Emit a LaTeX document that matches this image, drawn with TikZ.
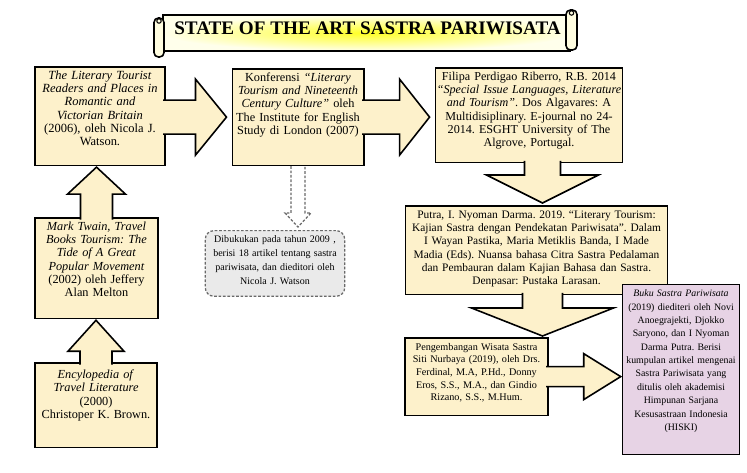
\documentclass[tikz,border=0pt]{standalone}
\usepackage{fontspec}
\setmainfont{Liberation Serif}
\usetikzlibrary{calc}
\frenchspacing

\definecolor{cardfill}{RGB}{253,241,203}
\definecolor{pinkfill}{RGB}{231,211,229}
\definecolor{notefill}{RGB}{234,234,234}
\definecolor{notedash}{RGB}{105,105,105}

\begin{document}
\begin{tikzpicture}[x=0.02cm, y=-0.02cm,
  card/.style={draw=black, line width=0.9pt, fill=cardfill, align=center, anchor=north,
    inner xsep=-2pt, inner ysep=2pt, text height=5pt,
    execute at begin node={\hyphenpenalty=10000\exhyphenpenalty=10000}},
  callout/.style={draw=black, line width=0.9pt, fill=cardfill, line join=miter},
  dasharrow/.style={draw=notedash, line width=0.7pt, fill=white, dash pattern=on 1.5pt off 1pt},
  roll/.style={draw=black, line width=0.9pt, fill=yellow!12!white, rounded corners=2.5pt}]
  \useasboundingbox (0,0) rectangle (747,473);
  \fill[white] (0,0) rectangle (747,473);

  % title scroll
  \shadedraw[inner color=yellow!85!white, outer color=yellow!8!white, line width=0.9pt] (163,15) rectangle (570,51);
  \filldraw[roll] (154,18) rectangle (164,57);
  \filldraw[roll] (566,10) rectangle (577,50);
  \draw[line width=0.6pt] (159,21) circle (2.2);
  \draw[line width=0.6pt] (571.5,13) circle (2.2);
  \node[font=\bfseries\fontsize{10.9}{12}\selectfont] (title) at (367.5,28) {STATE OF THE ART SASTRA PARIWISATA};

  % top row
  \node[card, text width=77.7pt, text depth=47.1pt, font=\fontsize{7.1}{7.6}\selectfont] (lit) at (100,66)
    {\textit{The Literary Tourist}\\ \textit{Readers and Places in}\\ \textit{Romantic and}\\ \textit{Victorian Britain}\\ (2006), oleh Nicola J.\\ Watson.};
  \node[card, text width=78.8pt, text depth=46pt, font=\fontsize{7}{7.6}\selectfont] (conf) at (298,68)
    {Konferensi \textit{“Literary}\\ \textit{Tourism and Nineteenth}\\ \textit{Century Culture”} oleh\\ The Institute for English\\ Study di London (2007)};
  \node[card, text width=110.6pt, text depth=44.9pt, font=\fontsize{6.9}{7.6}\selectfont] (fil) at (529,67)
    {Filipa Perdigao Riberro, R.B. 2014\\ \textit{“Special Issue Languages, Literature}\\ \textit{and Tourism”}. Dos Algavares: A\\ Multidisiplinary. E-journal no 24-\\ 2014. ESGHT University of The\\ Algrove, Portugal.};

  % right column
  \node[card, text width=153.1pt, text depth=41.5pt, font=\fontsize{6.5}{7.6}\selectfont] (put) at (536.5,205)
    {Putra, I. Nyoman Darma. 2019. “Literary Tourism:\\ Kajian Sastra dengan Pendekatan Pariwisata”. Dalam\\ I Wayan Pastika, Maria Metiklis Banda, I Made\\ Madia (Eds). Nuansa bahasa Citra Sastra Pedalaman\\ dan Pembauran dalam Kajian Bahasa dan Sastra.\\ Denpasar: Pustaka Larasan.};
  \node[card, text width=85.1pt, text depth=35.2pt, font=\fontsize{5.8}{7.2}\selectfont] (peng) at (476.5,337)
    {Pengembangan Wisata Sastra\\ Siti Nurbaya (2019), oleh Drs.\\ Ferdinal, M.A, P.Hd., Donny\\ Eros, S.S., M.A., dan Gindio\\ Rizano, S.S., M.Hum.};
  \node[card, fill=pinkfill, line width=0.6pt, text width=70.9pt, text depth=87.9pt, font=\fontsize{5.6}{7.6}\selectfont] (buku) at (681,284)
    {\textit{Buku Sastra Pariwisata}\\ (2019) diediteri oleh Novi\\ Anoegrajekti, Djokko\\ Saryono, dan I Nyoman\\ Darma Putra. Berisi\\ kumpulan artikel mengenai\\ Sastra Pariwisata yang\\ ditulis oleh akademisi\\ Himpunan Sarjana\\ Kesusastraan Indonesia\\ (HISKI)};

  % left column
  \node[card, text width=73.7pt, text depth=48.3pt, font=\fontsize{7}{7.6}\selectfont] (twain) at (96.5,217)
    {\textit{Mark Twain, Travel}\\ \textit{Books Tourism: The}\\ \textit{Tide of A Great}\\ \textit{Popular Movement}\\ (2002) oleh Jeffery\\ Alan Melton};
  \node[card, text width=73.2pt, text height=7pt, text depth=37.2pt, font=\fontsize{7}{7.6}\selectfont] (ency) at (96,362)
    {\textit{Encylopedia of}\\ \textit{Travel Literature}\\ (2000)\\ Christoper K. Brown.};

  % note under the conference
  \node[card, draw=notedash, fill=notefill, line width=0.7pt, dash pattern=on 1.5pt off 1pt, rounded corners=5pt,
    text width=83.4pt, text depth=28.4pt, font=\fontsize{5.7}{7.8}\selectfont] (note) at (275,230)
    {Dibukukan pada tahun 2009 ,\\ berisi 18 artikel tentang sastra\\ pariwisata, dan dieditori oleh\\ Nicola J. Watson};

  % lit -> conf
  \coordinate (tipA) at ($(conf.west)+(-5,0)$);
  \filldraw[callout] ($(lit.east |- tipA)+(-2.5,-17)$) -- ($(tipA)+(-31,-17)$) -- ($(tipA)+(-31,-38)$) -- (tipA)
    -- ($(tipA)+(-31,38)$) -- ($(tipA)+(-31,17)$) -- ($(lit.east |- tipA)+(-2.5,17)$);

  % conf -> fil
  \coordinate (tipB) at ($(fil.west |- conf.east)+(-5,0)$);
  \filldraw[callout] ($(conf.east |- tipB)+(-2.5,-17)$) -- ($(tipB)+(-30,-17)$) -- ($(tipB)+(-30,-38)$) -- (tipB)
    -- ($(tipB)+(-30,38)$) -- ($(tipB)+(-30,17)$) -- ($(conf.east |- tipB)+(-2.5,17)$);

  % fil -> put
  \coordinate (tipC) at ($(put.north)+(6,-2)$);
  \filldraw[callout] ($(fil.south -| tipC)+(-18,-2.5)$) -- ($(tipC)+(-18,-28)$) -- ($(tipC)+(-56,-28)$) -- (tipC)
    -- ($(tipC)+(56,-28)$) -- ($(tipC)+(18,-28)$) -- ($(fil.south -| tipC)+(18,-2.5)$);

  % put -> peng
  \coordinate (tipD) at ($(peng.north -| put.south)+(6,-1)$);
  \filldraw[callout] ($(put.south -| tipD)+(-20,-2.5)$) -- ($(tipD)+(-20,-28)$) -- ($(tipD)+(-71,-28)$) -- (tipD)
    -- ($(tipD)+(71,-28)$) -- ($(tipD)+(20,-28)$) -- ($(put.south -| tipD)+(20,-2.5)$);

  % peng -> buku
  \coordinate (tipE) at ($(buku.west |- peng.east)+(-1,0)$);
  \filldraw[callout] ($(peng.east |- tipE)+(-2.5,-10)$) -- ($(tipE)+(-37,-10)$) -- ($(tipE)+(-37,-23)$) -- (tipE)
    -- ($(tipE)+(-37,23)$) -- ($(tipE)+(-37,10)$) -- ($(peng.east |- tipE)+(-2.5,10)$);

  % twain -> lit
  \coordinate (tipF) at ($(lit.south -| twain.north)+(0,1)$);
  \filldraw[callout] ($(twain.north -| tipF)+(-16,2.5)$) -- ($(tipF)+(-16,27)$) -- ($(tipF)+(-29,27)$) -- (tipF)
    -- ($(tipF)+(29,27)$) -- ($(tipF)+(16,27)$) -- ($(twain.north -| tipF)+(16,2.5)$);

  % ency -> twain
  \coordinate (tipG) at ($(twain.south -| ency.north)+(0,1)$);
  \filldraw[callout] ($(ency.north -| tipG)+(-16,2.5)$) -- ($(tipG)+(-16,31)$) -- ($(tipG)+(-28,31)$) -- (tipG)
    -- ($(tipG)+(28,31)$) -- ($(tipG)+(16,31)$) -- ($(ency.north -| tipG)+(16,2.5)$);

  % conf -> note, dashed
  \coordinate (tipH) at ($(note.north -| conf.south)+(0,-3)$);
  \filldraw[dasharrow] ($(conf.south -| tipH)+(-7,0)$) -- ($(tipH)+(-7,-14)$) -- ($(tipH)+(-13,-14)$) -- (tipH)
    -- ($(tipH)+(13,-14)$) -- ($(tipH)+(7,-14)$) -- ($(conf.south -| tipH)+(7,0)$);
\end{tikzpicture}
\end{document}
